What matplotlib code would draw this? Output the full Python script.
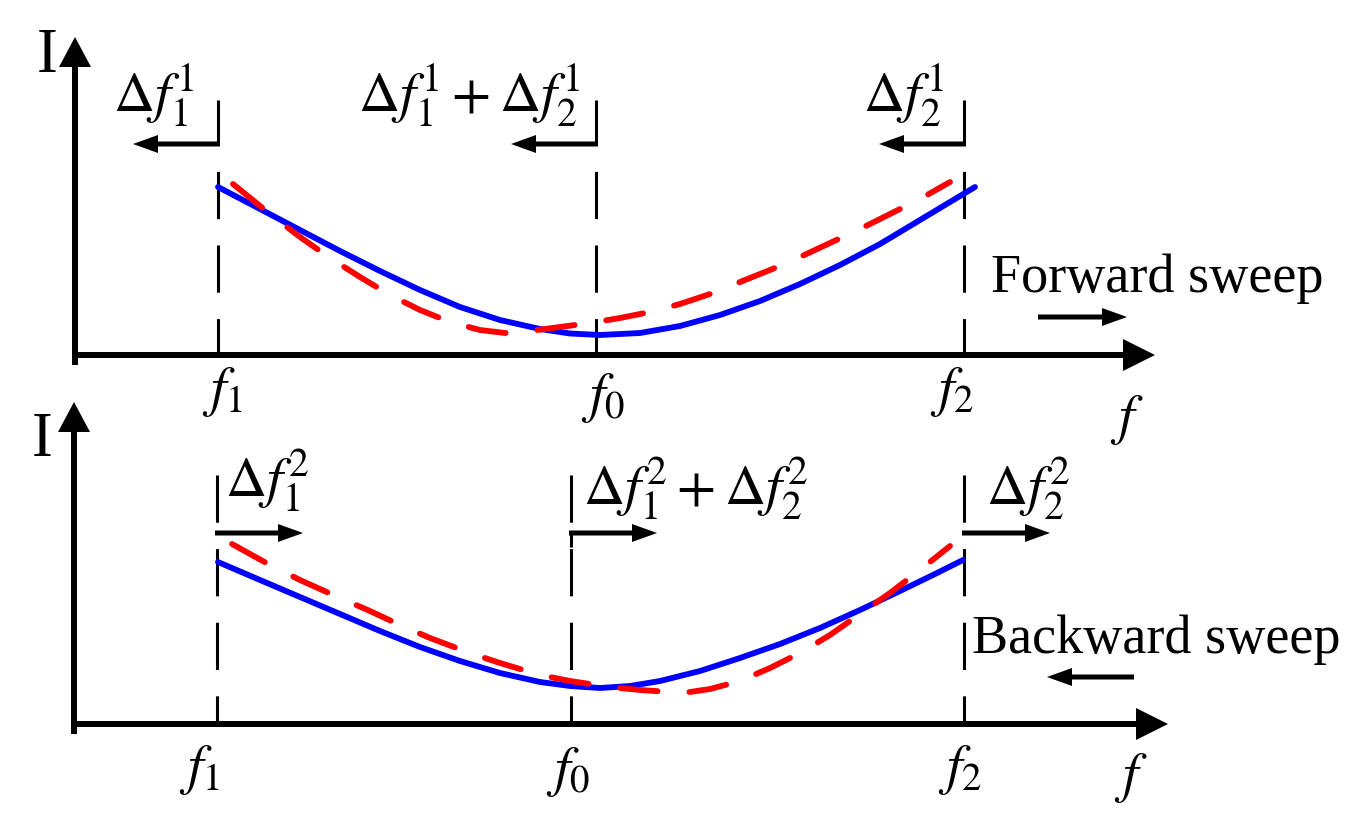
import matplotlib
matplotlib.use("Agg")
import matplotlib.pyplot as plt
import numpy as np

plt.rcParams['mathtext.fontset'] = 'stix'
plt.rcParams['font.family'] = 'Liberation Serif'
plt.rcParams['lines.scale_dashes'] = False

# curve points (pixel units, y downwards)
top_blue_x = [218, 260, 300, 340, 380, 420, 460, 500, 540, 570, 600, 640, 680, 720, 760, 800, 840, 880, 920, 950, 975]
top_blue_y = [187, 209, 230, 251, 271, 290, 307, 320, 329, 333.5, 335, 333, 326, 315, 301, 284, 265, 244, 220, 202, 187]
top_red_x = [233, 270, 300, 330, 360, 390, 420, 450, 480, 505, 530, 560, 590, 620, 650, 680, 710, 740, 770, 800, 830, 860, 890, 920, 950]
top_red_y = [184, 214, 237, 258, 277, 295, 310, 322, 330, 333, 331, 327, 323, 318, 312, 304, 294, 282, 270, 257, 243, 229, 214, 199, 182]

bot_blue_x = [218, 260, 300, 340, 380, 420, 460, 500, 540, 570, 600, 630, 660, 700, 740, 780, 820, 860, 900, 935, 963]
bot_blue_y = [562, 580, 597, 614, 631, 647, 661, 673, 682, 686, 688, 686, 681, 671, 658, 644, 628, 610, 591, 574, 560]
bot_red_x = [232, 270, 300, 340, 370, 400, 430, 470, 500, 540, 570, 610, 640, 670, 690, 710, 740, 770, 800, 830, 860, 890, 920, 950]
bot_red_y = [544, 565, 580, 598, 611, 625, 638, 653, 663, 675, 681, 687, 690, 692, 692, 689, 681, 668, 653, 635, 614, 593, 570, 546]

# marker frequencies
top_fx = [218, 596, 964]
bot_fx = [217, 571, 964]
top_tick = [r'$f_1$', r'$f_0$', r'$f_2$']
bot_tick = [r'$f_1$', r'$f_0$', r'$f_2$']
top_delta = [r'$\Delta f_1^1$', r'$\Delta f_1^1+\Delta f_2^1$', r'$\Delta f_2^1$']
bot_delta = [r'$\Delta f_1^2$', r'$\Delta f_1^2+\Delta f_2^2$', r'$\Delta f_2^2$']

fig = plt.figure(figsize=(13.53, 8.33), dpi=100)
ax = fig.add_axes([0, 0, 1, 1])
ax.set_xlim(0, 1353)
ax.set_ylim(833, 0)
ax.axis('off')

def axis_arrows(x0, y0, ytop, xend):
    ax.arrow(x0, y0 + 10, 0, ytop - y0 - 10, width=6, head_width=32, head_length=30,
             length_includes_head=True, color='k', lw=0)
    ax.arrow(x0 - 3, y0, xend - x0 + 3, 0, width=6, head_width=32, head_length=32,
             length_includes_head=True, color='k', lw=0)

def small_arrow(x0, x1, y):
    ax.arrow(x0, y, x1 - x0, 0, width=5, head_width=18, head_length=25,
             length_includes_head=True, color='k', lw=0)

dash = (34, 19)
red_dash = (0, (27, 23))

# top panel
axis_arrows(75, 355, 37, 1155)
for x in top_fx:
    ax.plot([x, x], [100, 145], color='k', lw=2.2, solid_capstyle='butt')
    ax.plot([x, x], [145, 355], color='k', lw=2.2, linestyle=(34, dash))
    small_arrow(x + 2, x - 85, 144)
ax.plot(top_blue_x, top_blue_y, color='#0000ff', lw=4.2, solid_capstyle='round',
        solid_joinstyle='round')
ax.plot(top_red_x, top_red_y, color='#ff0000', lw=4.2, linestyle=red_dash,
        dash_capstyle='round', dash_joinstyle='round')

ax.text(222, 392, top_tick[0], fontsize=40, ha='center', va='center')
ax.text(603, 398, top_tick[1], fontsize=40, ha='center', va='center')
ax.text(952, 392, top_tick[2], fontsize=40, ha='center', va='center')
ax.text(113, 112, top_delta[0], fontsize=41, ha='left', va='baseline')
ax.text(358, 112, top_delta[1], fontsize=41, ha='left', va='baseline')
ax.text(863, 112, top_delta[2], fontsize=41, ha='left', va='baseline')
ax.text(47, 57, 'I', fontsize=45, ha='center', va='center')
ax.text(1127, 420, r'$f$', fontsize=40, ha='center', va='center')
ax.text(991, 292, 'Forward sweep', fontsize=39, ha='left', va='baseline')
small_arrow(1038, 1127, 317)

# bottom panel
axis_arrows(74, 724, 402, 1168)
for x in bot_fx:
    ax.plot([x, x], [475, 724], color='k', lw=2.2, linestyle=(0, dash))
    small_arrow(x - 2, x + 86, 533)
ax.plot([571, 571], [533, 547], color='k', lw=2.2, solid_capstyle='butt')
ax.plot(bot_blue_x, bot_blue_y, color='#0000ff', lw=4.2, solid_capstyle='round',
        solid_joinstyle='round')
ax.plot(bot_red_x, bot_red_y, color='#ff0000', lw=4.2, linestyle=red_dash,
        dash_capstyle='round', dash_joinstyle='round')

ax.text(199, 770, bot_tick[0], fontsize=40, ha='center', va='center')
ax.text(568, 772, bot_tick[1], fontsize=40, ha='center', va='center')
ax.text(960, 770, bot_tick[2], fontsize=40, ha='center', va='center')
ax.text(225, 497, bot_delta[0], fontsize=41, ha='left', va='baseline')
ax.text(583, 505, bot_delta[1], fontsize=41, ha='left', va='baseline')
ax.text(986, 505, bot_delta[2], fontsize=41, ha='left', va='baseline')
ax.text(42, 441, 'I', fontsize=45, ha='center', va='center')
ax.text(1131, 778, r'$f$', fontsize=40, ha='center', va='center')
ax.text(972, 653, 'Backward sweep', fontsize=39, ha='left', va='baseline')
small_arrow(1134, 1047, 677)

fig.savefig('out.png', dpi=100)
